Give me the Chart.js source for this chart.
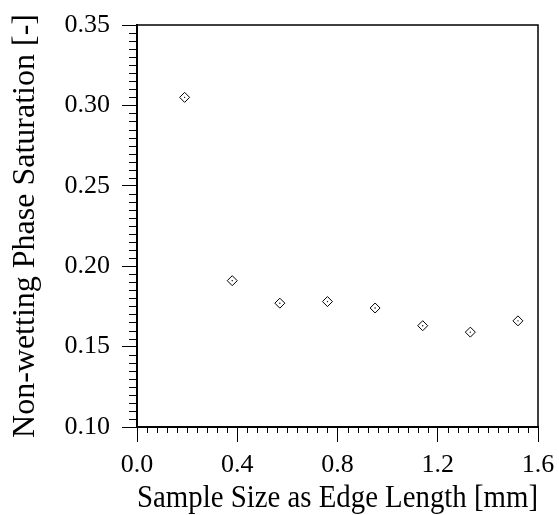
<!DOCTYPE html>
<html>
<head>
<meta charset="utf-8">
<script src="https://cdn.jsdelivr.net/npm/chart.js@4"></script>
<style>
  html, body { margin: 0; padding: 0; background: #fff; }
  #wrap { width: 559px; height: 515px; }
</style>
</head>
<body>
<div id="wrap"><canvas id="chart"></canvas></div>
<script>
const sampleSizes = [0.19, 0.38, 0.57, 0.76, 0.95, 1.14, 1.33, 1.52];
const saturation = [0.305, 0.191, 0.177, 0.178, 0.174, 0.163, 0.159, 0.166];

const TICK_FONT = { family: 'Liberation Serif', size: 26 };
const XTITLE_FONT = { family: 'Liberation Serif', size: 31 };
const YTITLE_FONT = { family: 'Liberation Serif', size: 32 };

const points = sampleSizes.map((x, i) => ({ x, y: saturation[i] }));

// frame + minor ticks (Chart.js has no minor ticks)
const framePlugin = {
  id: 'frame',
  afterDraw(chart) {
    const { ctx, chartArea: a } = chart;
    const xs = chart.scales.x, ys = chart.scales.y;
    ctx.save();
    ctx.strokeStyle = '#000';
    ctx.lineWidth = 1.5;
    ctx.beginPath();
    ctx.moveTo(a.left, a.top);
    ctx.lineTo(a.right, a.top);
    ctx.lineTo(a.right, a.bottom);
    ctx.stroke();

    ctx.lineWidth = 1;
    ctx.beginPath();
    for (let i = 1; i < 50; i++) {
      if (i % 10 === 0) continue;
      const py = Math.round(ys.getPixelForValue(0.10 + i * 0.005)) + 0.5;
      ctx.moveTo(a.left - 8, py);
      ctx.lineTo(a.left, py);
    }
    for (let i = 1; i < 40; i++) {
      if (i % 10 === 0) continue;
      const px = Math.round(xs.getPixelForValue(i * 0.04)) + 0.5;
      ctx.moveTo(px, a.bottom);
      ctx.lineTo(px, a.bottom + 6);
    }
    ctx.stroke();
    ctx.restore();
  }
};

new Chart(document.getElementById('chart').getContext('2d'), {
  type: 'scatter',
  data: {
    datasets: [
      {
        data: points,
        pointStyle: 'rectRot',
        pointRadius: 5,
        borderColor: '#000',
        borderWidth: 1,
        backgroundColor: 'rgba(0,0,0,0)'
      },
      {
        data: points,
        pointStyle: 'circle',
        pointRadius: 0.7,
        borderWidth: 0,
        backgroundColor: '#000'
      }
    ]
  },
  options: {
    responsive: true,
    maintainAspectRatio: false,
    animation: false,
    layout: { padding: { left: 0, top: 25, right: 21, bottom: 0 } },
    plugins: {
      legend: { display: false },
      tooltip: { enabled: false }
    },
    scales: {
      x: {
        type: 'linear',
        min: 0,
        max: 1.6,
        afterFit(scale) { scale.height = 88; scale.paddingLeft = 0; scale.paddingRight = 0; },
        ticks: {
          stepSize: 0.4,
          color: '#000',
          font: TICK_FONT,
          padding: 8,
          maxRotation: 0,
          callback: v => v.toFixed(1)
        },
        grid: {
          drawOnChartArea: false,
          drawTicks: true,
          tickLength: 15,
          color: '#000',
          lineWidth: 1
        },
        border: { display: true, color: '#000', width: 2 },
        title: {
          display: true,
          text: 'Sample Size as Edge Length [mm]',
          color: '#000',
          font: XTITLE_FONT,
          padding: { top: 0, bottom: -2 }
        }
      },
      y: {
        type: 'linear',
        min: 0.10,
        max: 0.35,
        afterFit(scale) { scale.width = 137; scale.paddingTop = 0; scale.paddingBottom = 0; },
        ticks: {
          stepSize: 0.05,
          color: '#000',
          font: TICK_FONT,
          padding: 12,
          callback: v => v.toFixed(2)
        },
        grid: {
          drawOnChartArea: false,
          drawTicks: true,
          tickLength: 15,
          color: '#000',
          lineWidth: 1
        },
        border: { display: true, color: '#000', width: 2 },
        title: {
          display: true,
          text: 'Non-wetting Phase Saturation [-]',
          color: '#000',
          font: YTITLE_FONT,
          padding: { top: 6, bottom: 0 }
        }
      }
    }
  },
  plugins: [framePlugin]
});
</script>
</body>
</html>
